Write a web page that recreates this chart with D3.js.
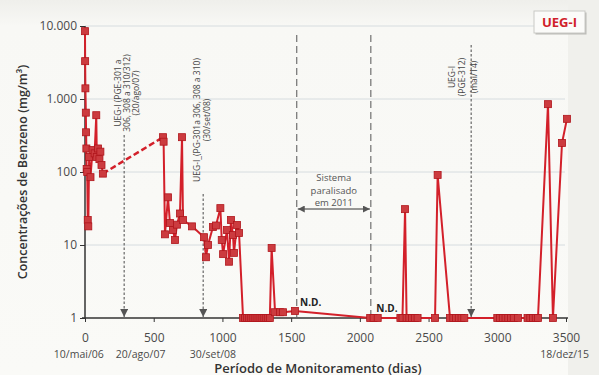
<!DOCTYPE html>
<html>
<head>
<meta charset="utf-8">
<script src="https://cdn.jsdelivr.net/npm/d3@7"></script>
<style>
  html, body { margin: 0; padding: 0; background: #f6f6f2; }
  svg { display: block; }
</style>
</head>
<body>
<svg id="chart" width="599" height="375"></svg>
<script>
// Benzene concentration, early monitoring campaign (days since 10/mai/06)
const earlyDays = [0, 1, 3, 6, 8, 10, 12, 16, 20, 24, 30, 40, 55, 70, 82, 86, 95, 105, 112, 120, 130];
const earlyConc = [8500, 3300, 1400, 650, 350, 210, 110, 100, 22, 18, 160, 85, 200, 180, 600, 160, 210, 150, 190, 125, 95];

// Benzene concentration, later campaign (values of 1 are below detection)
const mainDays = [568, 572, 582, 604, 618, 640, 655, 669, 691, 706, 713, 779, 866, 880, 895, 931, 953,
  985, 995, 1005, 1033, 1048, 1062, 1077, 1084, 1106, 1121, 1150,
  1165, 1180, 1195, 1210, 1225, 1240, 1255, 1270, 1285, 1300, 1315, 1330, 1345, 1358,
  1383, 1419, 1441, 1528, 2075, 2100, 2130,
  2295, 2310, 2329, 2340, 2360, 2380, 2400, 2420,
  2547, 2566, 2656, 2680, 2700, 2720, 2740, 2760,
  3000, 3020, 3040, 3060, 3080, 3100, 3120, 3150,
  3220, 3240, 3260, 3280, 3296, 3369, 3405, 3471, 3507];
const mainConc = [300, 260, 14, 45, 20, 16, 11.7, 19, 27, 300, 22, 18, 12.8, 6.8, 10, 17.6, 18.5,
  32, 11.7, 7.5, 16, 5.9, 22, 13.7, 7.8, 18.8, 14.6, 1,
  1, 1, 1, 1, 1, 1, 1, 1, 1, 1, 1, 1, 1, 9.1,
  1.2, 1.2, 1.2, 1.25, 1, 1, 1,
  1, 1, 31, 1, 1, 1, 1, 1,
  1, 91, 1, 1, 1, 1, 1, 1,
  1, 1, 1, 1, 1, 1, 1, 1,
  1, 1, 1, 1, 1, 850, 1, 250, 535];

const xTicks = [0, 500, 1000, 1500, 2000, 2500, 3000, 3500];
const yTicks = [1, 10, 100, 1000, 10000];
const yTickLabels = ["1", "10", "100", "1.000", "10.000"];

// Calendar dates written under the day axis
const dateLabels = ["10/mai/06", "20/ago/07", "30/set/08", "18/dez/15"];
const dateDays = [-45, 405, 930, 3490];

// Well-intervention events (dotted arrows)
const eventDays = [285, 860, 2810];
const eventTexts = [
  ["UEG-I (PGE-301 a", "306, 308 a 310/312)", "(20/ago/07)"],
  ["UEG-I_(PG-301a 306, 308 a 310)", "(30/set/08)"],
  ["UEG-I", "(PGE-312)", "(mai/14)"]
];

// Period when the treatment system was stopped
const stopDays = [1541, 2080];
const stopText = ["Sistema", "paralisado", "em 2011"];

const ndDays = [1565, 2120];

const svg = d3.select("#chart");
const W = 599, H = 375;
const x = d3.scaleLinear().domain([0, 3500]).range([85, 566]);
const y = d3.scaleLog().domain([1, 10000]).range([318, 26]);

const red = "#d3202a";
const fontTxt = "'Open Sans', 'DejaVu Sans', sans-serif";

// backdrop
const defs = svg.append("defs");
const g0 = defs.append("linearGradient").attr("id", "bg").attr("x1", 0).attr("y1", 0).attr("x2", 0).attr("y2", 1);
g0.append("stop").attr("offset", "0").attr("stop-color", "#efefeb");
g0.append("stop").attr("offset", "0.07").attr("stop-color", "#f8f8f5");
g0.append("stop").attr("offset", "1").attr("stop-color", "#fafaf7");
svg.append("rect").attr("width", W).attr("height", H).attr("fill", "url(#bg)");
svg.append("rect").attr("x", 568).attr("y", 0).attr("width", W - 568).attr("height", H).attr("fill", "#f0f0ec");

// grid lines
svg.append("g").selectAll("line").data(yTicks.slice(1)).join("line")
  .attr("x1", x(0)).attr("x2", 565)
  .attr("y1", d => y(d)).attr("y2", d => y(d))
  .attr("stroke", "#d6dcdf").attr("stroke-width", 1);

// axes
const xAxis = d3.axisBottom(x).tickValues(xTicks).tickSize(4).tickFormat(d3.format("d"));
const gx = svg.append("g").attr("transform", `translate(0,${y(1)})`).call(xAxis);
gx.select(".domain").attr("stroke", "#333").attr("stroke-width", 1.5).attr("d", `M82,0H568`);
gx.selectAll(".tick line").attr("stroke", "#333");
gx.selectAll(".tick text").attr("y", 15).attr("font-family", fontTxt).attr("font-size", 12).attr("fill", "#4a4a4a");

const yAxis = d3.axisLeft(y).tickValues(yTicks).tickSize(5).tickFormat((d, i) => yTickLabels[i]);
const gy = svg.append("g").attr("transform", `translate(${x(0)},0)`).call(yAxis);
gy.select(".domain").attr("stroke", "#333").attr("stroke-width", 1.5).attr("d", `M0,${y(1)}V${y(10000)}`);
gy.selectAll(".tick line").attr("stroke", "#333");
gy.selectAll(".tick text").attr("x", -8).attr("font-family", fontTxt).attr("font-size", 12).attr("fill", "#4a4a4a");

// dates under the axis
svg.append("g").selectAll("text").data(dateLabels).join("text")
  .attr("x", (d, i) => x(dateDays[i])).attr("y", 358)
  .attr("text-anchor", "middle").attr("font-family", fontTxt).attr("font-size", 10.5)
  .attr("fill", "#4a4a4a").text(d => d);

// axis titles
svg.append("text").attr("x", 318).attr("y", 372.5).attr("text-anchor", "middle")
  .attr("font-family", fontTxt).attr("font-size", 13).attr("font-weight", 600).attr("fill", "#333")
  .text("Período de Monitoramento (dias)");
svg.append("text").attr("transform", "translate(27,172) rotate(-90)").attr("text-anchor", "middle")
  .attr("font-family", fontTxt).attr("font-size", 12.5).attr("font-weight", 600).attr("fill", "#333")
  .text("Concentrações de Benzeno (mg/m³)");

// arrowheads
defs.append("marker").attr("id", "tri").attr("viewBox", "0 0 10 10").attr("refX", 10).attr("refY", 5)
  .attr("markerWidth", 7).attr("markerHeight", 7).attr("orient", "auto-start-reverse")
  .append("path").attr("d", "M0,0L10,5L0,10z").attr("fill", "#555");

// event arrows
const evTop = [135, 194, 45];
svg.append("g").selectAll("line").data(eventDays).join("line")
  .attr("x1", d => x(d)).attr("x2", d => x(d))
  .attr("y1", (d, i) => evTop[i]).attr("y2", y(1) - 1)
  .attr("stroke", "#666").attr("stroke-width", 1.2).attr("stroke-dasharray", "2.5,2")
  .attr("marker-end", "url(#tri)");

const evCols = [[-3, 6, 15], [-3, 7], [-16, -6, 6]];
const evMid = [93, 120, 77];
eventTexts.forEach((lines, i) => {
  lines.forEach((t, j) => {
    svg.append("text")
      .attr("transform", `translate(${x(eventDays[i]) + evCols[i][j]},${evMid[i]}) rotate(-90)`)
      .attr("text-anchor", "middle").attr("font-family", fontTxt).attr("font-size", 8.5)
      .attr("fill", "#444").text(t);
  });
});

// stopped-system window
svg.append("g").selectAll("line").data(stopDays).join("line")
  .attr("x1", d => x(d)).attr("x2", d => x(d)).attr("y1", 35).attr("y2", y(1))
  .attr("stroke", "#555").attr("stroke-width", 1).attr("stroke-dasharray", "7,4");
svg.append("line").attr("x1", x(stopDays[0]) + 1).attr("x2", x(stopDays[1]) - 1)
  .attr("y1", 209).attr("y2", 209).attr("stroke", "#333").attr("stroke-width", 1)
  .attr("marker-start", "url(#tri)").attr("marker-end", "url(#tri)");
svg.append("g").selectAll("text").data(stopText).join("text")
  .attr("x", (x(stopDays[0]) + x(stopDays[1])) / 2).attr("y", (d, i) => 181 + i * 12.5)
  .attr("text-anchor", "middle").attr("font-family", fontTxt).attr("font-size", 9.5)
  .attr("fill", "#555").text(d => d);

// series
const early = earlyDays.map((d, i) => [d, earlyConc[i]]);
const main = mainDays.map((d, i) => [d, mainConc[i]]);
const line = d3.line().x(d => x(d[0])).y(d => y(d[1]));

svg.append("path").datum([early[early.length - 1], main[0]]).attr("d", line)
  .attr("fill", "none").attr("stroke", red).attr("stroke-width", 2.5).attr("stroke-dasharray", "6,3");
[early, main].forEach(seg => {
  svg.append("path").datum(seg).attr("d", line)
    .attr("fill", "none").attr("stroke", red).attr("stroke-width", 2).attr("stroke-linejoin", "round");
});
svg.append("g").selectAll("rect").data(early.concat(main)).join("rect")
  .attr("x", d => x(d[0]) - 3.5).attr("y", d => y(d[1]) - 3.5)
  .attr("width", 7).attr("height", 7)
  .attr("fill", "#cc3b3f").attr("stroke", "#b0161c").attr("stroke-width", 0.8);

// non-detect labels
svg.append("g").selectAll("text").data(ndDays).join("text")
  .attr("x", d => x(d)).attr("y", (d, i) => i === 0 ? 306 : 312)
  .attr("font-family", fontTxt).attr("font-size", 10).attr("font-weight", 700)
  .attr("fill", "#222").text("N.D.");

// station tag
svg.append("rect").attr("x", 534).attr("y", 11).attr("width", 51).attr("height", 22)
  .attr("fill", "#b9b9b5").attr("transform", "translate(1.5,1.5)");
svg.append("rect").attr("x", 534).attr("y", 11).attr("width", 51).attr("height", 22)
  .attr("fill", "#fbfbf9").attr("stroke", "#c9c9c5").attr("stroke-width", 1);
svg.append("text").attr("x", 559.5).attr("y", 27).attr("text-anchor", "middle")
  .attr("font-family", fontTxt).attr("font-size", 13).attr("font-weight", 700)
  .attr("fill", "#d0202a").text("UEG-I");
</script>
</body>
</html>
